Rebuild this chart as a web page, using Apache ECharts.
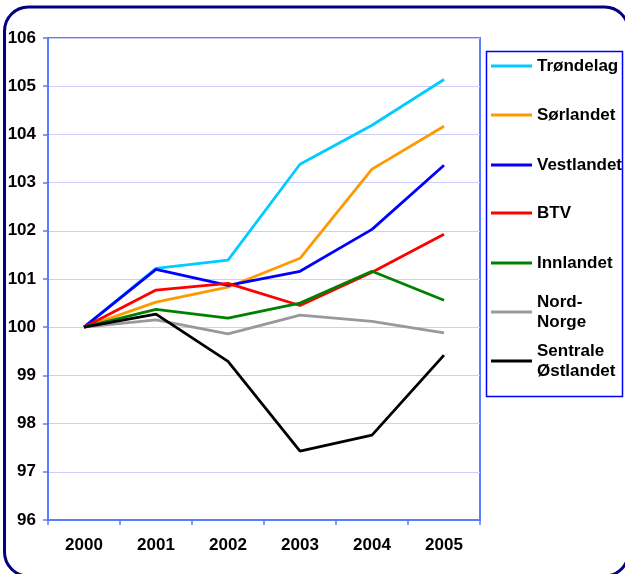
<!DOCTYPE html>
<html><head><meta charset="utf-8">
<script src="https://cdn.jsdelivr.net/npm/echarts@6/dist/echarts.min.js"></script>
<style>html,body{margin:0;padding:0;background:#fff}#c{width:625px;height:574px}</style>
</head><body><div id="c"></div><script>
const years = ['2000', '2001', '2002', '2003', '2004', '2005'];
const seriesNames = ['Trøndelag', 'Sørlandet', 'Vestlandet', 'BTV', 'Innlandet', 'Nord-Norge', 'Sentrale Østlandet'];
const legendLabels = ['Trøndelag', 'Sørlandet', 'Vestlandet', 'BTV', 'Innlandet', 'Nord-\nNorge', 'Sentrale\nØstlandet'];
const trondelag = [100, 101.22, 101.39, 103.38, 104.19, 105.14];
const sorlandet = [100, 100.52, 100.83, 101.43, 103.28, 104.17];
const vestlandet = [100, 101.20, 100.87, 101.16, 102.03, 103.36];
const btv = [100, 100.77, 100.91, 100.45, 101.14, 101.93];
const innlandet = [100, 100.37, 100.19, 100.50, 101.16, 100.56];
const nordNorge = [100, 100.15, 99.86, 100.25, 100.12, 99.88];
const sentraleOstlandet = [100, 100.27, 99.29, 97.43, 97.76, 99.42];
const yTicks = { min: 96, max: 106, interval: 1 };

const allValues = [trondelag, sorlandet, vestlandet, btv, innlandet, nordNorge, sentraleOstlandet];
const colors = ['#00ccff', '#ff9900', '#0000ff', '#ff0000', '#008000', '#999999', '#000000'];
const iconY = [66, 115, 165, 213, 263, 312, 361];
const font = 'Liberation Sans, Arial, sans-serif';

const chart = echarts.init(document.getElementById('c'), null, { renderer: 'canvas' });
const legends = seriesNames.map((n, i) => {
  const twoLine = legendLabels[i].indexOf('\n') >= 0;
  return {
    show: true,
    data: [n],
    orient: 'vertical',
    left: 491,
    top: twoLine ? iconY[i] - 30 : iconY[i] - 10,
    padding: 0,
    icon: 'rect',
    itemWidth: 41,
    itemHeight: 3,
    itemGap: 4,
    selectedMode: false,
    formatter: () => legendLabels[i],
    textStyle: {
      fontFamily: font, fontWeight: 'bold', fontSize: 17, color: '#000',
      lineHeight: 20, padding: twoLine ? [20, 0, 0, 0] : 0
    }
  };
});

chart.setOption({
  animation: false,
  color: colors,
  grid: { left: 48, right: 145, top: 38, bottom: 54, show: true, borderColor: '#5a7cff', borderWidth: 2, backgroundColor: 'transparent' },
  legend: legends,
  xAxis: {
    type: 'category', data: years, boundaryGap: true,
    axisLine: { lineStyle: { color: '#5a7cff', width: 2 } },
    axisTick: { show: true, length: 5, lineStyle: { color: '#5a7cff', width: 1.5 } },
    axisLabel: { fontFamily: font, fontWeight: 'bold', fontSize: 17, color: '#000', margin: 17 },
    splitLine: { show: false }
  },
  yAxis: {
    type: 'value', min: yTicks.min, max: yTicks.max, interval: yTicks.interval,
    axisLine: { show: true, lineStyle: { color: '#5a7cff', width: 2 } },
    axisTick: { show: true, length: 5, lineStyle: { color: '#5a7cff', width: 1.5 } },
    axisLabel: { fontFamily: font, fontWeight: 'bold', fontSize: 17, color: '#000', margin: 12 },
    splitLine: { show: true, lineStyle: { color: '#ccccff', width: 1 } }
  },
  series: seriesNames.map((n, i) => ({
    name: n, type: 'line', data: allValues[i], symbol: 'none',
    lineStyle: { width: 2.8, color: colors[i] }, itemStyle: { color: colors[i] }
  })),
  graphic: [
    { type: 'rect', shape: { x: 4.5, y: 7, width: 624, height: 569, r: 24 }, style: { fill: 'none', stroke: '#000080', lineWidth: 3 }, silent: true, z: 100 },
    { type: 'rect', shape: { x: 486.5, y: 51.5, width: 136, height: 345 }, style: { fill: 'none', stroke: '#0000ff', lineWidth: 1.5 }, silent: true, z: 100 }
  ]
});
</script></body></html>
